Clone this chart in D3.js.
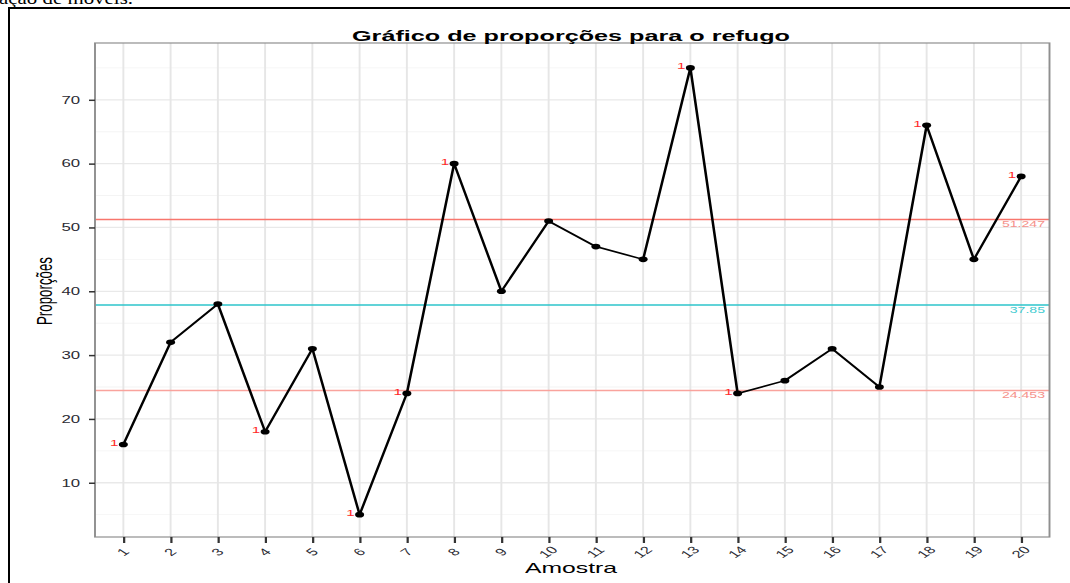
<!DOCTYPE html>
<html>
<head>
<meta charset="utf-8">
<script src="https://cdn.jsdelivr.net/npm/d3@7"></script>
<style>
  body { margin: 0; background: #fff; }
  svg { display: block; }
</style>
</head>
<body>
<svg id="chart"></svg>
<script>
// data
var samples = ["1", "2", "3", "4", "5", "6", "7", "8", "9", "10",
               "11", "12", "13", "14", "15", "16", "17", "18", "19", "20"];
var proportions = [16, 32, 38, 18, 31, 5, 24, 60, 40, 51,
                   47, 45, 75, 24, 26, 31, 25, 66, 45, 58];
var ucl = 51.247, center = 37.85, lcl = 24.453;
var limitLabels = ["51.247", "37.85", "24.453"];
var yTicks = [10, 20, 30, 40, 50, 60, 70];
var yMinor = [5, 15, 25, 35, 45, 55, 65, 75];

var W = 1070, H = 583;
var sx = 1.6;   // the picture is stretched sideways, draw narrow then scale x

var svg = d3.select("#chart").attr("width", W).attr("height", H);

// page text cut off at the top and the document frame
svg.append("text")
    .attr("x", -1).attr("y", 4)
    .attr("font-family", "Liberation Serif, serif")
    .attr("font-size", 17)
    .attr("textLength", 134)
    .attr("lengthAdjust", "spacingAndGlyphs")
    .text("ação de móveis.");
svg.append("path")
    .attr("d", "M9,583 V8 H1070")
    .attr("fill", "none").attr("stroke", "#000").attr("stroke-width", 2);

var g = svg.append("g").attr("transform", "scale(" + sx + ",1)");

var pLeft = 95 / sx, pRight = 1049.5 / sx, pTop = 43, pBottom = 537;

var x = d3.scaleLinear().domain([0.4, 20.6]).range([pLeft, pRight]);
var y = d3.scaleLinear().domain([1.5, 78.9]).range([pBottom, pTop]);

// grid
g.append("g").selectAll("line")
    .data(yMinor).enter().append("line")
    .attr("x1", pLeft).attr("x2", pRight)
    .attr("y1", function(d) { return y(d); }).attr("y2", function(d) { return y(d); })
    .attr("stroke", "#f4f4f4").attr("stroke-width", 0.9);
g.append("g").selectAll("line")
    .data(yTicks).enter().append("line")
    .attr("x1", pLeft).attr("x2", pRight)
    .attr("y1", function(d) { return y(d); }).attr("y2", function(d) { return y(d); })
    .attr("stroke", "#e9e9e9").attr("stroke-width", 1.3);
g.append("g").selectAll("line")
    .data(samples).enter().append("line")
    .attr("x1", function(d) { return x(+d); }).attr("x2", function(d) { return x(+d); })
    .attr("y1", pTop).attr("y2", pBottom)
    .attr("stroke", "#e6e6e6").attr("stroke-width", 1.2);

// control limits
var limits = [
    {v: ucl, line: "#F8766D", text: "#F5918A", label: limitLabels[0]},
    {v: center, line: "#2CC5CB", text: "#45CCD1", label: limitLabels[1]},
    {v: lcl, line: "#F9A39D", text: "#F5918A", label: limitLabels[2]}
];
g.append("g").selectAll("line")
    .data(limits).enter().append("line")
    .attr("x1", pLeft).attr("x2", pRight)
    .attr("y1", function(d) { return y(d.v); }).attr("y2", function(d) { return y(d.v); })
    .attr("stroke", function(d) { return d.line; })
    .attr("stroke-width", 1.4);
g.append("g").selectAll("text")
    .data(limits).enter().append("text")
    .attr("x", 1045 / sx)
    .attr("y", function(d) { return y(d.v) + 8; })
    .attr("text-anchor", "end")
    .attr("font-family", "Liberation Sans, Arial, sans-serif")
    .attr("font-size", 8.8)
    .attr("fill", function(d) { return d.text; })
    .text(function(d) { return d.label; });

// series
var pts = samples.map(function(s, i) { return {s: +s, v: proportions[i]}; });
var line = d3.line()
    .x(function(d) { return x(d.s); })
    .y(function(d) { return y(d.v); });
g.append("path")
    .datum(pts)
    .attr("d", line)
    .attr("fill", "none").attr("stroke", "#000")
    .attr("stroke-width", 1.6).attr("stroke-linejoin", "round");
g.append("g").selectAll("circle")
    .data(pts).enter().append("circle")
    .attr("cx", function(d) { return x(d.s); })
    .attr("cy", function(d) { return y(d.v); })
    .attr("r", 2.8)
    .attr("fill", "#000");

// rule 1 flags: points beyond the limits
g.append("g").selectAll("text")
    .data(pts.filter(function(d) { return d.v > ucl || d.v < lcl; }))
    .enter().append("text")
    .attr("x", function(d) { return x(d.s) - 5 / sx; })
    .attr("y", function(d) { return y(d.v) + 1.5; })
    .attr("text-anchor", "end")
    .attr("font-family", "Liberation Sans, Arial, sans-serif")
    .attr("font-size", 9.5)
    .attr("fill", "#FF2A2A")
    .text("1");

// panel border
g.append("rect")
    .attr("x", pLeft).attr("y", pTop)
    .attr("width", pRight - pLeft).attr("height", pBottom - pTop)
    .attr("fill", "none").attr("stroke", "#8f8f8f").attr("stroke-width", 1.2);

// axes
var yAxis = g.append("g")
    .attr("transform", "translate(" + pLeft + ",0)")
    .call(d3.axisLeft(y).tickValues(yTicks).tickSize(6 / sx).tickPadding(5.5));
yAxis.select(".domain").remove();
yAxis.selectAll("line").attr("stroke", "#333").attr("stroke-width", 1.5);
yAxis.selectAll("text")
    .attr("font-family", "Liberation Sans, Arial, sans-serif")
    .attr("font-size", 10.5)
    .attr("fill", "#2b2b33");

var xAxis = g.append("g")
    .attr("transform", "translate(0," + pBottom + ")")
    .call(d3.axisBottom(x).tickValues(samples.map(Number)).tickSize(6).tickFormat(d3.format("d")));
xAxis.select(".domain").remove();
xAxis.selectAll("line").attr("stroke", "#333").attr("stroke-width", 1.4);
xAxis.selectAll("text")
    .attr("y", null).attr("dy", null)
    .attr("transform", "translate(-0.6,15) rotate(-45)")
    .attr("text-anchor", "middle")
    .attr("dominant-baseline", "central")
    .attr("font-family", "Liberation Sans, Arial, sans-serif")
    .attr("font-size", 10.2)
    .attr("fill", "#2b2b33");

// titles
g.append("text")
    .attr("x", 571 / sx).attr("y", 41)
    .attr("text-anchor", "middle")
    .attr("font-family", "Liberation Sans, Arial, sans-serif")
    .attr("font-size", 14.6).attr("font-weight", "bold")
    .attr("textLength", 438 / sx).attr("lengthAdjust", "spacingAndGlyphs")
    .text("Gráfico de proporções para o refugo");
g.append("text")
    .attr("x", 571 / sx).attr("y", 573)
    .attr("text-anchor", "middle")
    .attr("font-family", "Liberation Sans, Arial, sans-serif")
    .attr("font-size", 15)
    .attr("textLength", 92 / sx).attr("lengthAdjust", "spacingAndGlyphs")
    .text("Amostra");
g.append("text")
    .attr("transform", "translate(" + (52 / sx) + ",291) rotate(-90)")
    .attr("text-anchor", "middle")
    .attr("font-family", "Liberation Sans, Arial, sans-serif")
    .attr("font-size", 13.5)
    .attr("textLength", 68).attr("lengthAdjust", "spacingAndGlyphs")
    .text("Proporções");
</script>
</body>
</html>
